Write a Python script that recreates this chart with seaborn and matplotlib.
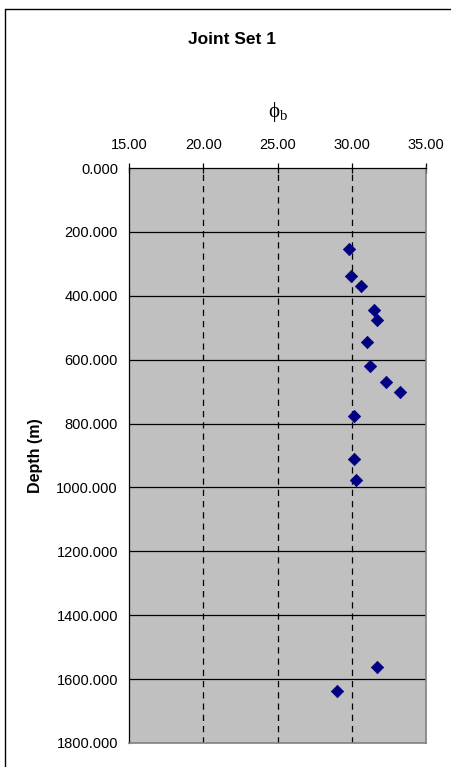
import matplotlib
matplotlib.use("Agg")
import matplotlib.pyplot as plt
from matplotlib.lines import Line2D
from matplotlib.ticker import FormatStrFormatter
import numpy as np
import pandas as pd
import seaborn as sns

# Basic friction angle (degrees) against depth (m)
phi_b = [29.80, 29.98, 30.65, 31.52, 31.73, 31.03, 31.24, 32.30, 33.27,
         30.18, 30.18, 30.29, 31.73, 29.03]
depth = [253, 337, 370, 444, 475, 544, 619, 669, 700,
         775, 912, 977, 1561, 1637]

x_ticks = [15, 20, 25, 30, 35]
y_ticks = [0, 200, 400, 600, 800, 1000, 1200, 1400, 1600, 1800]

df = pd.DataFrame({"phi_b": phi_b, "depth": depth})

sns.set_theme(style="white")
plt.rcParams["font.family"] = ["Liberation Sans", "DejaVu Sans"]
plt.rcParams["text.color"] = "black"
plt.rcParams["axes.labelcolor"] = "black"
plt.rcParams["xtick.color"] = "black"
plt.rcParams["ytick.color"] = "black"

fig = plt.figure(figsize=(4.52, 7.67), dpi=100)
ax = fig.add_axes([129 / 452, 1 - 743 / 767, 297 / 452, 575 / 767])
ax.set_facecolor("#C0C0C0")

# horizontal solid grid and vertical dashed grid
for y in y_ticks[1:-1]:
    ax.axhline(y, color="black", lw=0.9, zorder=1)
for x in x_ticks[1:-1]:
    ax.axvline(x, color="black", lw=0.9, ls=(0, (5, 4)), zorder=1)

sns.scatterplot(data=df, x="phi_b", y="depth", marker="D", s=40,
                color="#000080", edgecolor="#000080", linewidth=0.5,
                ax=ax, zorder=3, legend=False)

ax.set_xlim(15, 35)
ax.set_ylim(1800, 0)
ax.set_xticks(x_ticks)
ax.set_yticks(y_ticks)
ax.xaxis.set_major_formatter(FormatStrFormatter("%.2f"))
ax.yaxis.set_major_formatter(FormatStrFormatter("%.3f"))
ax.xaxis.tick_top()
ax.xaxis.set_label_position("top")
ax.tick_params(axis="x", which="major", direction="inout", length=7,
               width=0.9, color="black", labelsize=10.5, pad=8)
ax.tick_params(axis="y", which="major", direction="out", length=5,
               width=0.9, color="black", labelsize=10.5, pad=3)

for side in ["top", "left"]:
    ax.spines[side].set_color("black")
    ax.spines[side].set_linewidth(0.9)
for side in ["right", "bottom"]:
    ax.spines[side].set_color("#808080")
    ax.spines[side].set_linewidth(1.2)

ax.set_xlabel(r"$\mathregular{\phi_b}$", fontsize=15, family="Liberation Serif",
              labelpad=15)
ax.set_ylabel("Depth (m)", fontsize=11.5, fontweight="bold")
ax.yaxis.set_label_coords(-0.29, 0.5)

fig.text(232 / 452, 1 - 40 / 767, "Joint Set 1", ha="center", va="center",
         fontsize=12.5, fontweight="bold")

# outer chart frame
fig.add_artist(Line2D([5.5 / 452, 5.5 / 452], [0, 1 - 8.5 / 767],
                      transform=fig.transFigure, color="black", lw=1.0))
fig.add_artist(Line2D([5.5 / 452, 1], [1 - 8.5 / 767, 1 - 8.5 / 767],
                      transform=fig.transFigure, color="black", lw=1.0))

fig.savefig("out.png", dpi=100)
